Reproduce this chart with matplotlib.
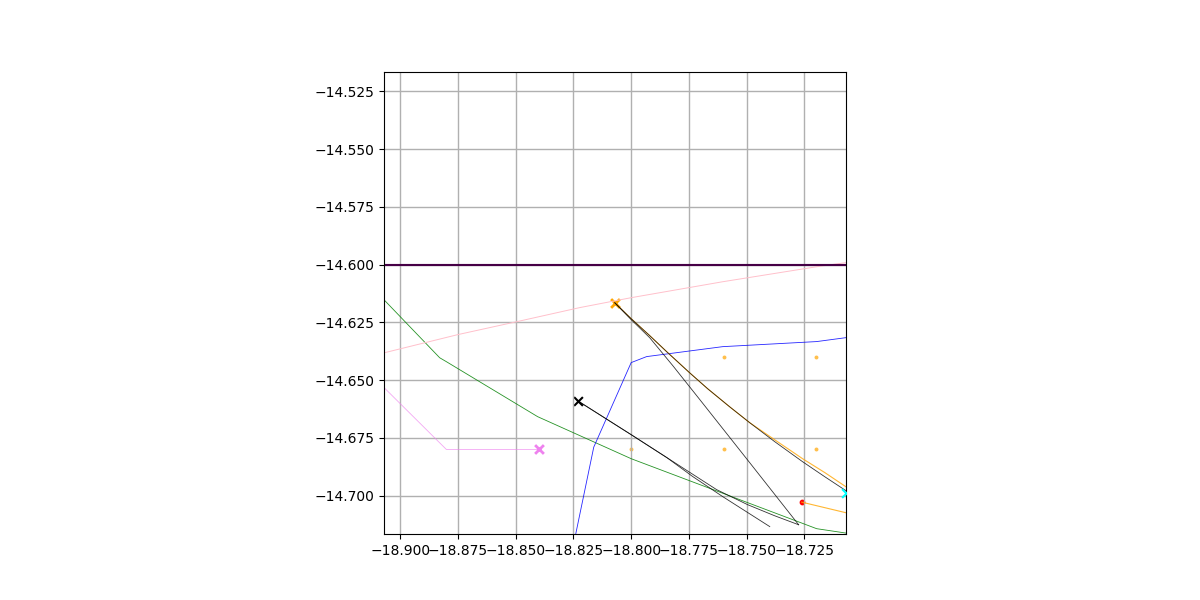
import matplotlib
matplotlib.use("Agg")
import matplotlib.pyplot as plt

# obstacle style paths
green_x = [-18.907, -18.8829, -18.880, -18.8405, -18.800, -18.7197, -18.707]
green_y = [-14.6152, -14.6403, -14.642, -14.6658, -14.684, -14.7143, -14.7162]
blue_x = [-18.8240, -18.8162, -18.800, -18.7933, -18.7604, -18.7197, -18.707]
blue_y = [-14.7166, -14.679, -14.6424, -14.6398, -14.6355, -14.6333, -14.6316]
pink_x = [-18.9067, -18.8751, -18.8496, -18.8223, -18.800, -18.7604, -18.7197, -18.707]
pink_y = [-14.6381, -14.6303, -14.6247, -14.6186, -14.6143, -14.6074, -14.6009, -14.5991]
violet_x = [-18.907, -18.880, -18.840]
violet_y = [-14.6532, -14.680, -14.680]
orange_x = [-18.8071, -18.8002, -18.792, -18.7846, -18.7747, -18.7669, -18.7574, -18.7487, -18.7379, -18.7258, -18.7162, -18.7071]
orange_y = [-14.6165, -14.6232, -14.6307, -14.6377, -14.6468, -14.6537, -14.6615, -14.6684, -14.6758, -14.684, -14.690, -14.6961]
orange2_x = [-18.7262, -18.707]
orange2_y = [-14.7028, -14.7074]

# black trajectories
black_a_x = [-18.8071, -18.8002, -18.792, -18.7846, -18.7747, -18.7669, -18.7574, -18.7487, -18.7379, -18.7258, -18.7162, -18.7071]
black_a_y = [-14.6165, -14.6232, -14.6307, -14.6377, -14.6468, -14.6537, -14.6615, -14.6684, -14.6766, -14.6853, -14.6918, -14.6978]
black_b_x = [-18.8071, -18.8002, -18.792, -18.782, -18.7703, -18.7487, -18.7275]
black_b_y = [-14.6165, -14.6236, -14.6316, -14.6437, -14.6584, -14.6857, -14.7126]
black_c_x = [-18.8232, -18.800, -18.7846, -18.763, -18.7496, -18.7379, -18.7275]
black_c_y = [-14.6589, -14.6736, -14.6835, -14.6974, -14.7039, -14.7087, -14.7126]
black_d_x = [-18.8232, -18.800, -18.7846, -18.7734, -18.7604, -18.740]
black_d_y = [-14.6589, -14.6736, -14.6835, -14.6917, -14.7004, -14.7134]

waypoints_x = [-18.80, -18.76, -18.72, -18.76, -18.72]
waypoints_y = [-14.68, -14.68, -14.68, -14.64, -14.64]
limit_y = -14.6

fig, ax = plt.subplots(figsize=(12, 6), dpi=100)

ax.plot(green_x, green_y, color='green', lw=0.6, alpha=0.85)
ax.plot(blue_x, blue_y, color='blue', lw=0.6, alpha=0.85)
ax.plot(pink_x, pink_y, color='pink', lw=0.7)
ax.plot(violet_x, violet_y, color='violet', lw=0.6, alpha=0.7)
ax.plot(orange_x, orange_y, color='orange', lw=0.8, alpha=0.8)
ax.plot(orange2_x, orange2_y, color='orange', lw=0.8, alpha=0.8)
ax.axhline(limit_y, color='purple', lw=1.5)
ax.axhline(limit_y, color='black', lw=1.5, alpha=0.45)

for xs, ys in [(black_a_x, black_a_y), (black_b_x, black_b_y),
               (black_c_x, black_c_y), (black_d_x, black_d_y)]:
    ax.plot(xs, ys, color='black', lw=0.6, alpha=0.8)

ax.scatter(waypoints_x, waypoints_y, color='orange', s=8, alpha=0.7, linewidths=0)
ax.scatter([-18.84], [-14.68], color='violet', marker='x', s=40, linewidths=2)
ax.scatter([-18.8071], [-14.6165], color='orange', marker='x', s=40, linewidths=2)
ax.scatter([-18.8232], [-14.6589], color='black', marker='x', s=40)
ax.scatter([-18.7068], [-14.6987], color='cyan', marker='x', s=40, zorder=3)
ax.scatter([-18.7262], [-14.7028], color='red', s=10)

ax.set_xlim(-18.907, -18.707)
ax.set_ylim(-14.7166, -14.5166)
ax.set_aspect('equal')
ax.grid(True, lw=1)

plt.savefig('out.png')
